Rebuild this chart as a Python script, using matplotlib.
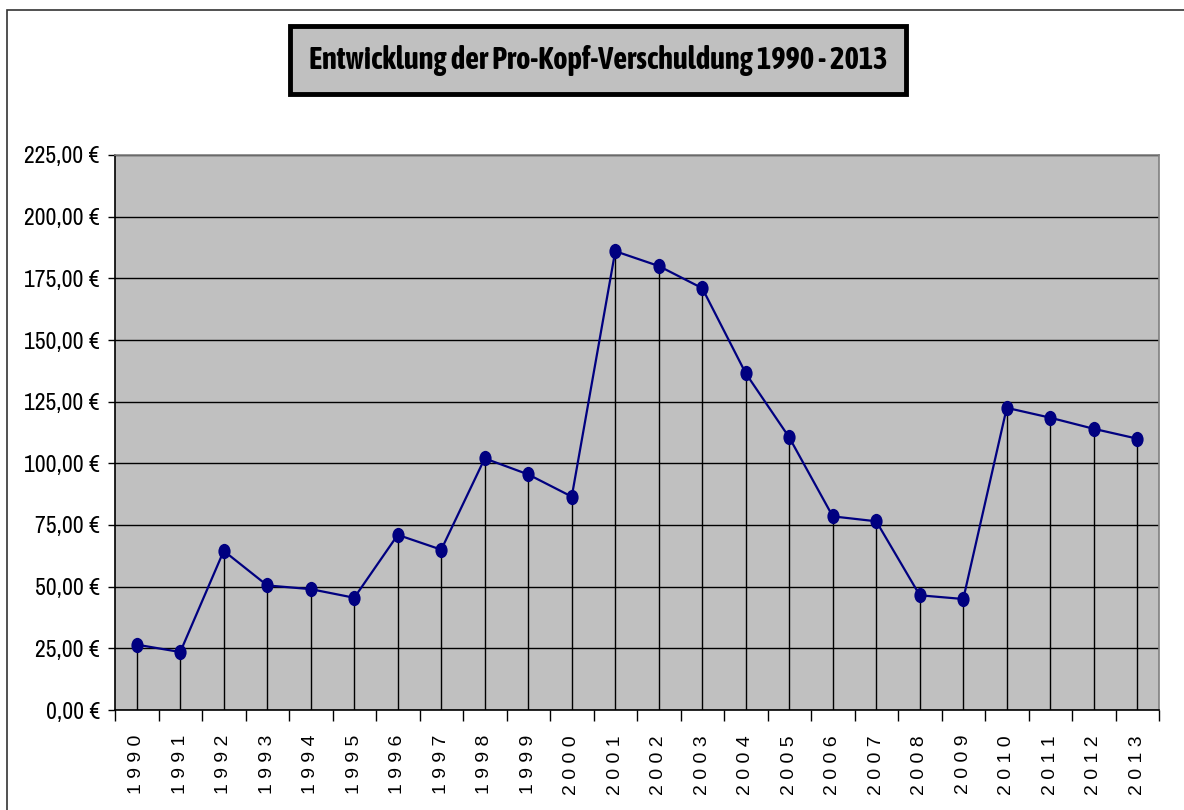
import matplotlib.pyplot as plt
from matplotlib import font_manager
from matplotlib.markers import MarkerStyle
from matplotlib.patches import Rectangle
from matplotlib.ticker import FixedLocator, MultipleLocator, FuncFormatter
from matplotlib.transforms import Affine2D

years = [str(y) for y in range(1990, 2014)]
debt = [26.5, 23.5, 64.5, 50.5, 49.0, 45.5, 71.0, 65.0, 102.0, 95.5, 86.5,
        186.0, 180.0, 171.0, 136.5, 110.5, 78.5, 76.5, 46.5, 45.0,
        122.5, 118.5, 114.0, 110.0]
title = "Entwicklung der Pro-Kopf-Verschuldung 1990 - 2013"


def weight_num(w):
    if isinstance(w, int):
        return w
    return {"bold": 700, "heavy": 800, "black": 900, "semibold": 600, "demibold": 600}.get(str(w), 400)


# look for a condensed face (the original uses Arial Narrow), preferably one with a bold cut
fonts = font_manager.fontManager.ttflist
narrow = sorted({f.name for f in fonts if "Narrow" in f.name or "Condensed" in f.name})
narrow_bold = [n for n in narrow if any(f.name == n and weight_num(f.weight) >= 700 for f in fonts)]
NARROW = narrow[:1] + ["Liberation Sans", "DejaVu Sans"]
NARROW_B = (narrow_bold or narrow)[:1] + ["Liberation Sans", "DejaVu Sans"]
have_narrow = bool(narrow)

fig = plt.figure(figsize=(11.84, 8.10), dpi=100)

# outer chart border
fig.patches.append(Rectangle((7 / 1184, -0.05), 1.2, 1.05 - 10 / 810, transform=fig.transFigure,
                             fill=False, edgecolor="#333333", linewidth=1.2))

ax = fig.add_axes([115 / 1184, 100 / 810, 1044 / 1184, 555 / 810])
ax.set_facecolor("#c0c0c0")

x = list(range(len(years)))
dot = MarkerStyle("o", transform=Affine2D().scale(0.8, 1.0))
ax.vlines(x, 0, debt, color="black", linewidth=1.0, zorder=2)
ax.plot(x, debt, color="#000080", linewidth=1.6, marker=dot, markersize=11,
        markeredgewidth=0, zorder=3)

ax.set_xlim(-0.5, len(years) - 0.5)
ax.set_ylim(0, 225)
ax.yaxis.set_major_locator(MultipleLocator(25))
ax.yaxis.set_major_formatter(FuncFormatter(lambda v, p: f"{v:.2f} €".replace(".", ",")))
ax.grid(axis="y", color="black", linewidth=1.0, zorder=1)
ax.set_axisbelow(True)

ax.set_xticks(x)
ax.set_xticklabels([" ".join(y) for y in years], rotation=90,
                   fontsize=14, family=["Liberation Sans", "DejaVu Sans"])
ax.xaxis.set_minor_locator(FixedLocator([i - 0.5 for i in range(len(years) + 1)]))
ax.tick_params(axis="x", which="major", length=0, pad=18)
ax.tick_params(axis="x", which="minor", length=8, width=1, color="black")
ax.tick_params(axis="y", length=5, width=1, color="black", pad=6)
for lbl in ax.get_yticklabels():
    lbl.set_family(NARROW)
    lbl.set_fontsize(17 if have_narrow else 14)

ax.spines["left"].set_color("black")
ax.spines["bottom"].set_color("black")
ax.spines["top"].set_color("#808080")
ax.spines["right"].set_color("#808080")
for s in ax.spines.values():
    s.set_linewidth(1.2)

fig.text(598 / 1184, 1 - 60 / 810, title, ha="center", va="center",
         fontsize=22 if have_narrow else 17, fontweight="bold", family=NARROW_B,
         bbox=dict(boxstyle="square,pad=0.6", facecolor="#c0c0c0",
                   edgecolor="black", linewidth=3.5))

fig.savefig("out.png", dpi=100)
